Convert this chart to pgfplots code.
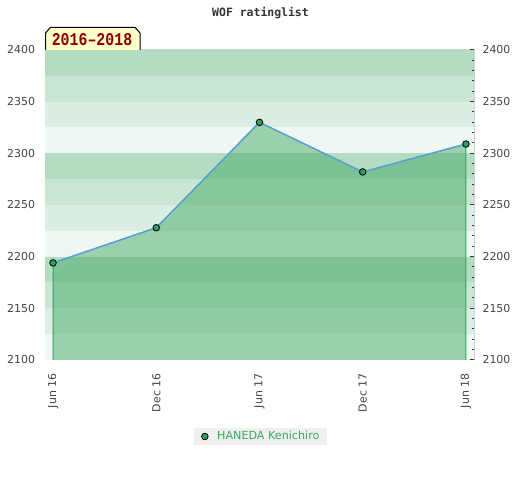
\documentclass[border=0pt]{standalone}
\usepackage{pgfplots}
\pgfplotsset{compat=1.18}
\usepackage{fontspec}
\setmainfont{DejaVu Sans}
\newfontfamily\titlemono{DejaVu Sans Mono}
\newfontfamily\boxmono{Liberation Mono}
\definecolor{bandA}{RGB}{179,220,195}
\definecolor{bandB}{RGB}{200,230,211}
\definecolor{bandC}{RGB}{220,238,227}
\definecolor{bandD}{RGB}{239,247,242}
\definecolor{areafill}{RGB}{70,170,103}
\definecolor{edgegreen}{RGB}{50,165,90}
\definecolor{lineblue}{RGB}{90,160,220}
\definecolor{markgreen}{RGB}{46,160,90}
\definecolor{framegray}{RGB}{208,208,208}
\definecolor{labelgray}{RGB}{68,68,68}
\definecolor{legendgray}{RGB}{240,240,240}
\definecolor{legendtext}{RGB}{58,168,96}
\definecolor{boxyellow}{RGB}{255,255,204}
\definecolor{boxred}{RGB}{140,0,0}
\begin{document}
\begin{tikzpicture}[x=1bp,y=1bp]
\useasboundingbox (0,0) rectangle (520,480);
\begin{axis}[
  at={(45bp,120bp)}, anchor=south west,
  width=429bp, height=310bp, scale only axis,
  xmin=-0.078, xmax=4.078, ymin=2100, ymax=2400,
  axis line style={draw=framegray, line width=1bp},
  xtick={0,1,2,3,4},
  xticklabels={Jun 16, Dec 16, Jun 17, Dec 17, Jun 18},
  ytick={2100,2150,...,2400},
  major tick length=0pt,
  tick style={draw=none},
  /pgf/number format/assume math mode=true,
  /pgf/number format/1000 sep={},
  tick label style={font=\fontsize{11}{13}\selectfont, text=labelgray},
  x tick label style={rotate=90, anchor=east, xshift=-10bp},
  y tick label style={xshift=-6.5bp},
  legend image code/.code={\draw[#1] plot coordinates {(0bp,0bp)};},
  legend style={at={(axis description cs:0.5023,0)}, yshift=-76.5bp, anchor=center,
    fill=legendgray, draw=none, font=\fontsize{11.2}{13}\selectfont, text=legendtext,
    inner xsep=8bp, inner ysep=4bp,
    nodes={inner sep=0pt},
    /tikz/every odd column/.append style={column sep=9bp}},
]
\fill[bandA] (axis cs:-0.1,2375) rectangle (axis cs:4.1,2400);
\fill[bandB] (axis cs:-0.1,2350) rectangle (axis cs:4.1,2375);
\fill[bandC] (axis cs:-0.1,2325) rectangle (axis cs:4.1,2350);
\fill[bandD] (axis cs:-0.1,2300) rectangle (axis cs:4.1,2325);
\fill[bandA] (axis cs:-0.1,2275) rectangle (axis cs:4.1,2300);
\fill[bandB] (axis cs:-0.1,2250) rectangle (axis cs:4.1,2275);
\fill[bandC] (axis cs:-0.1,2225) rectangle (axis cs:4.1,2250);
\fill[bandD] (axis cs:-0.1,2200) rectangle (axis cs:4.1,2225);
\fill[bandA] (axis cs:-0.1,2175) rectangle (axis cs:4.1,2200);
\fill[bandB] (axis cs:-0.1,2150) rectangle (axis cs:4.1,2175);
\fill[bandC] (axis cs:-0.1,2125) rectangle (axis cs:4.1,2150);
\fill[bandD] (axis cs:-0.1,2100) rectangle (axis cs:4.1,2125);
\addplot[forget plot, draw=edgegreen, line width=1bp, fill=areafill, fill opacity=0.5, draw opacity=1]
  coordinates {(0,2100) (0,2194) (1,2228) (2,2330) (3,2282) (4,2309) (4,2100)};
\addplot[forget plot, draw=lineblue, line width=1.4bp]
  coordinates {(0,2194) (1,2228) (2,2330) (3,2282) (4,2309)};
\addplot[forget plot, only marks, mark=*, mark size=3.3bp,
  mark options={fill=markgreen, draw=black, line width=0.8bp}]
  coordinates {(0,2194) (1,2228) (2,2330) (3,2282) (4,2309)};
\addlegendimage{only marks, mark=*, mark size=3.3bp, mark options={fill=markgreen, draw=black, line width=0.8bp}}
\addlegendentry{HANEDA Kenichiro}
\end{axis}
\begin{axis}[
  at={(45bp,120bp)}, anchor=south west,
  width=429bp, height=310bp, scale only axis,
  xmin=-0.078, xmax=4.078, ymin=2100, ymax=2400,
  hide x axis,
  axis y line*=right,
  y axis line style={draw=none},
  ytick={2100,2150,...,2400},
  minor y tick num=4,
  ytick align=inside,
  ytick pos=right,
  yticklabel pos=right,
  major tick length=4bp, minor tick length=2.5bp,
  tick style={draw=black!80, line width=1bp},
  /pgf/number format/assume math mode=true,
  /pgf/number format/1000 sep={},
  tick label style={font=\fontsize{11}{13}\selectfont, text=labelgray},
  y tick label style={xshift=5bp},
]
\end{axis}
\node[font=\titlemono\bfseries\fontsize{11.5}{13}\selectfont, text=black!80] at (260.5,467) {WOF ratinglist};
\draw[fill=boxyellow, line width=1bp] (45.5,430) -- (45.5,447) -- (50.5,452.7) -- (135,452.7) -- (140,447) -- (140,430);
\node[font=\boxmono\bfseries\fontsize{18}{19}\selectfont, text=boxred, xscale=0.83, anchor=base, inner sep=0pt] at (92,434.3) {2016\textendash 2018};
\end{tikzpicture}
\end{document}
